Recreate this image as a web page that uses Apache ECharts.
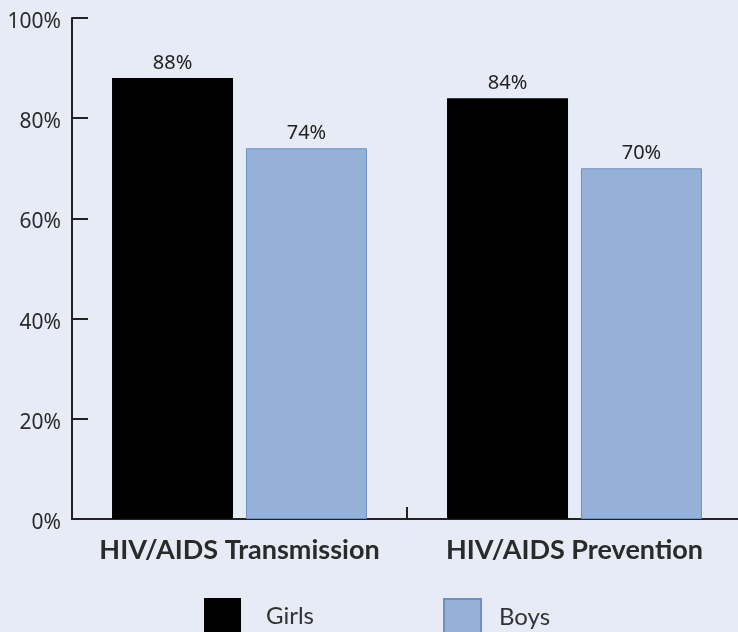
<!DOCTYPE html>
<html>
<head>
<meta charset="utf-8">
<script src="https://cdn.jsdelivr.net/npm/echarts@6/dist/echarts.min.js"></script>
<style>
  html, body { margin: 0; padding: 0; background: #e7ebf5; }
  #chart { width: 738px; height: 632px; }
</style>
</head>
<body>
<div id="chart"></div>
<script>
// data
var categories = ['HIV/AIDS Transmission', 'HIV/AIDS Prevention'];
var girls = [88, 84];
var boys = [74, 70];
var yTicks = [0, 20, 40, 60, 80, 100];

var myChart = echarts.init(document.getElementById('chart'));

var option = {
  backgroundColor: '#e7ebf5',
  animation: false,
  grid: { left: 72, width: 670, top: 18, bottom: 113, outerBoundsMode: 'none', containLabel: false },
  legend: [
    {
      data: ['Girls'], left: 204, top: 598, padding: 0, itemWidth: 37, itemHeight: 37,
      icon: 'rect',
      textStyle: { fontFamily: 'Lato', fontSize: 24, color: '#333', padding: [4, 0, 0, 20] }
    },
    {
      data: ['Boys'], left: 443, top: 598, padding: 0, itemWidth: 37, itemHeight: 37,
      icon: 'rect',
      textStyle: { fontFamily: 'Lato', fontSize: 24, color: '#333', padding: [4, 0, 0, 13] }
    }
  ],
  xAxis: {
    type: 'category',
    data: categories,
    axisLine: { lineStyle: { color: '#222', width: 2 } },
    axisTick: { show: true, inside: true, interval: 0, length: 12, lineStyle: { color: '#222', width: 2 } },
    axisLabel: {
      interval: 0, hideOverlap: false,
      margin: 18, fontFamily: 'Lato', fontWeight: 'bold', fontSize: 27, color: '#2a2a2a'
    }
  },
  yAxis: {
    type: 'value',
    min: yTicks[0],
    max: yTicks[yTicks.length - 1],
    interval: 20,
    axisLine: { show: true, lineStyle: { color: '#222', width: 2 } },
    axisTick: { show: true, inside: true, length: 16, lineStyle: { color: '#222', width: 2 } },
    splitLine: { show: false },
    axisLabel: {
      margin: 11,
      formatter: function (v) { return '{t|' + v + '%}'; },
      rich: {
        t: { fontFamily: 'Noto Sans', fontSize: 21, color: '#2a2a2a', padding: [8, 0, 0, 0] }
      }
    }
  },
  series: [
    {
      name: 'Girls', type: 'bar', data: girls,
      barWidth: 121, barGap: '10.7%',
      itemStyle: { color: '#000000' },
      label: {
        show: true, position: 'top', distance: 5,
        fontFamily: 'Noto Sans', fontSize: 20, color: '#222',
        formatter: function (p) { return p.value + '%'; }
      }
    },
    {
      name: 'Boys', type: 'bar', data: boys,
      barWidth: 121,
      itemStyle: { color: '#95b1d8', borderColor: '#6a90c6', borderWidth: 1 },
      label: {
        show: true, position: 'top', distance: 5,
        fontFamily: 'Noto Sans', fontSize: 20, color: '#222',
        formatter: function (p) { return p.value + '%'; }
      }
    }
  ]
};

myChart.setOption(option);
</script>
</body>
</html>
